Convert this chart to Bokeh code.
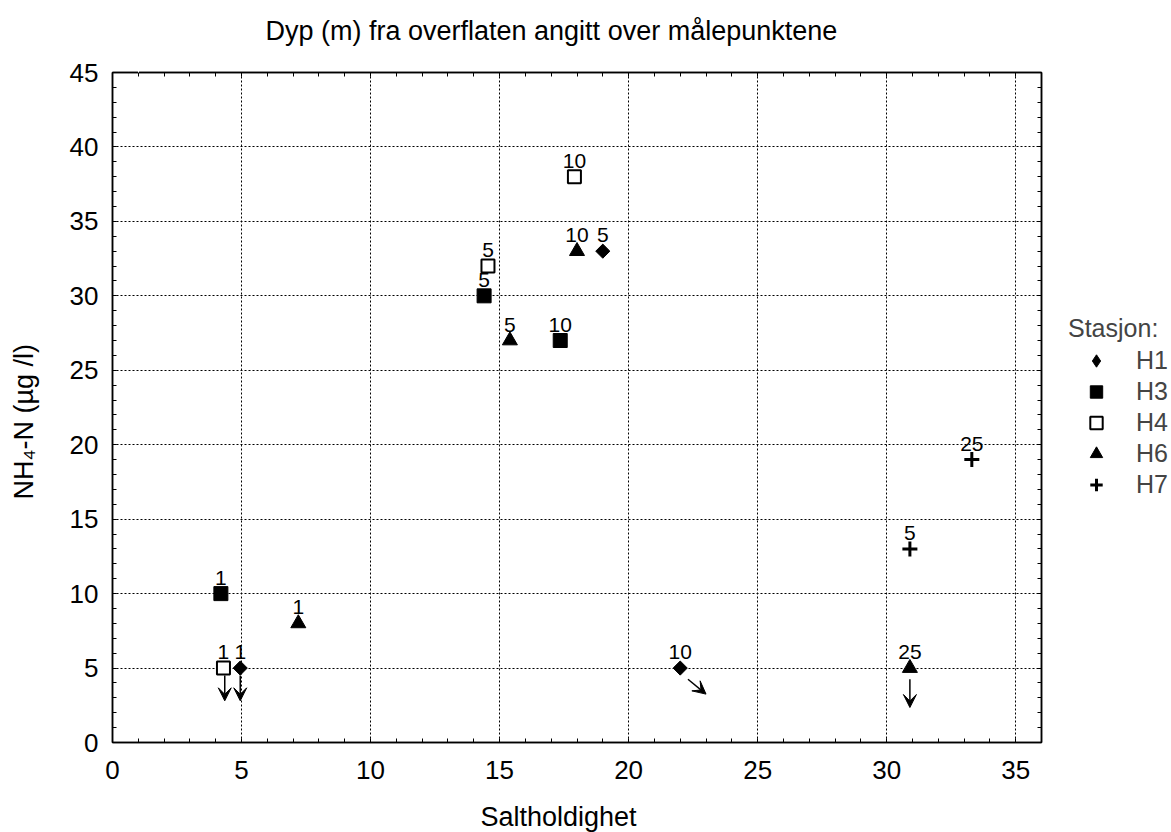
import math
from bokeh.plotting import figure
from bokeh.layouts import row
from bokeh.models import (Range1d, LinearAxis, SingleIntervalTicker, FixedTicker, Legend,
                          LegendItem, Arrow, VeeHead, ColumnDataSource, Title)
from bokeh.embed import file_html
from bokeh.resources import INLINE
from bokeh.core.properties import value

FONT = "Liberation Sans"

# ---- data ----
stations = ["H1", "H3", "H4", "H6", "H7"]

h1_salt = [4.95, 19.0, 22.0]
h1_nh4 = [5, 33, 5]
h1_depth = ["1", "5", "10"]

h3_salt = [4.2, 14.4, 17.35]
h3_nh4 = [10, 30, 27]
h3_depth = ["1", "5", "10"]

h4_salt = [4.3, 14.55, 17.9]
h4_nh4 = [5, 32, 38]
h4_depth = ["1", "5", "10"]

h6_salt = [7.2, 15.4, 18.0, 30.9]
h6_nh4 = [8, 27, 33, 5]
h6_depth = ["1", "5", "10", "25"]

h7_salt = [30.9, 33.3]
h7_nh4 = [13, 19]
h7_depth = ["5", "25"]

# arrows: values below detection limit
arrow_x_start = [4.35, 4.95, 22.3, 30.9]
arrow_y_start = [4.5, 4.5, 4.25, 4.25]
arrow_x_end = [4.35, 4.95, 23.0, 30.9]
arrow_y_end = [2.8, 2.8, 3.25, 2.35]

x_tick_interval = 5
y_tick_interval = 5
title_text = "Dyp (m) fra overflaten angitt over målepunktene"
x_label = "Saltholdighet"
y_label = "NH₄-N (µg /l)"
legend_title = "Stasjon:"

# ---- main figure ----
W, H = 1044, 832
BL, BR, BT, BB = 112, 3, 72, 90

p = figure(width=W, height=H, output_backend="svg", toolbar_location=None,
           x_range=Range1d(0, 36), y_range=Range1d(0, 45),
           min_border_left=BL, min_border_right=BR, min_border_top=BT, min_border_bottom=BB,
           background_fill_color="white", border_fill_color="white")
p.outline_line_color = "black"
p.outline_line_width = 1.5

xt = SingleIntervalTicker(interval=x_tick_interval, num_minor_ticks=5)
yt = SingleIntervalTicker(interval=y_tick_interval, num_minor_ticks=5)

def style_axis(ax, labels=True):
    ax.axis_line_color = "black"
    ax.axis_line_width = 1.5
    ax.major_tick_in = 4
    ax.major_tick_out = 0
    ax.minor_tick_in = 4
    ax.minor_tick_out = 0
    ax.major_tick_line_color = "black"
    ax.minor_tick_line_color = "black"
    ax.major_label_text_font = FONT
    if labels:
        ax.major_label_text_font_size = "26px"
        ax.major_label_text_color = "black"
    else:
        ax.major_label_text_font_size = "1px"
        ax.major_label_text_color = None

def spacer(size):
    # blank axis (one white outward tick over the white border) that only reserves space
    return LinearAxis(ticker=FixedTicker(ticks=[1]), major_tick_in=0, major_tick_out=size,
                      minor_tick_in=0, minor_tick_out=0, axis_line_color=None,
                      major_tick_line_color="white", major_tick_line_width=1,
                      minor_tick_line_color=None, major_label_text_color=None,
                      major_label_text_font_size="1px", major_label_standoff=0)

def text_title(txt, offset, **kw):
    return Title(text=txt, text_font=FONT, text_font_size="27px",
                 text_font_style="normal", text_color="black",
                 align="left", offset=offset, **kw)

xa = p.xaxis[0]
ya = p.yaxis[0]
xa.ticker = xt
ya.ticker = yt
style_axis(xa)
style_axis(ya)
xa.major_label_standoff = 18
ya.major_label_standoff = 14

top_ax = LinearAxis(ticker=xt)
right_ax = LinearAxis(ticker=yt)
style_axis(top_ax, labels=False)
style_axis(right_ax, labels=False)
p.add_layout(top_ax, "above")
p.add_layout(right_ax, "right")

p.xgrid.ticker = xt
p.ygrid.ticker = yt
for g in (p.xgrid, p.ygrid):
    g.grid_line_color = "black"
    g.grid_line_width = 1
    g.grid_line_dash = "2 2"

# ---- depth labels (drawn first, so markers sit on top) ----
lab_font = dict(text_font=value(FONT), text_font_size="21px", text_align="center",
                text_baseline="alphabetic", text_color="black", y_offset=-16)
for sx, sy, sd in [(h1_salt, h1_nh4, h1_depth), (h3_salt, h3_nh4, h3_depth),
                   (h4_salt, h4_nh4, h4_depth), (h6_salt, h6_nh4, h6_depth),
                   (h7_salt, h7_nh4, h7_depth)]:
    p.text(x=sx, y=sy, text=sd, **lab_font)

# ---- markers ----
style_h1 = dict(fill_color="black", line_color="black")
style_h3 = dict(marker="square", fill_color="black", line_color="black")
style_h4 = dict(marker="square", fill_color="white", line_color="black", line_width=2)
style_h6 = dict(marker="triangle", fill_color="black", line_color="black")
style_h7 = dict(marker="cross", line_color="black", line_width=3)

p.scatter(h1_salt, h1_nh4, marker="square", angle=math.pi / 4, size=10, **style_h1)
p.scatter(h3_salt, h3_nh4, size=14, **style_h3)
p.scatter(h4_salt, h4_nh4, size=13, **style_h4)
p.scatter(h6_salt, h6_nh4, size=15, **style_h6)
p.scatter(h7_salt, h7_nh4, size=15, **style_h7)

# ---- arrows ----
asrc = ColumnDataSource(dict(x0=arrow_x_start, y0=arrow_y_start,
                             x1=arrow_x_end, y1=arrow_y_end))
p.add_layout(Arrow(end=VeeHead(size=13, fill_color="black", line_color="black"),
                   x_start="x0", y_start="y0", x_end="x1", y_end="y1",
                   source=asrc, line_color="black", line_width=1.5))

# ---- title (above) ----
p.add_layout(spacer(26), "above")
p.add_layout(text_title(title_text, 153, standoff=2), "above")

# ---- x label (below) ----
p.add_layout(spacer(18), "below")
p.add_layout(text_title(x_label, 368, standoff=0), "below")

# ---- y label (left) ----
p.add_layout(spacer(27), "left")
p.add_layout(text_title(y_label, 243, standoff=2), "left")

# ---- legend panel (separate narrow figure to the right) ----
W2 = 126
pl = figure(width=W2, height=H, output_backend="svg", toolbar_location=None,
            x_range=Range1d(-100, -99), y_range=Range1d(-100, -99),
            x_axis_location=None, y_axis_location=None,
            min_border_left=0, min_border_right=0, min_border_top=0, min_border_bottom=19,
            background_fill_color="white", border_fill_color="white")
pl.outline_line_color = None
pl.grid.visible = False

k1 = pl.scatter(h1_salt, h1_nh4, marker="diamond", **style_h1)
k3 = pl.scatter(h3_salt, h3_nh4, **style_h3)
k4 = pl.scatter(h4_salt, h4_nh4, **style_h4)
k6 = pl.scatter(h6_salt, h6_nh4, **style_h6)
k7 = pl.scatter(h7_salt, h7_nh4, **style_h7)

legend = Legend(items=[LegendItem(label=s, renderers=[r]) for s, r in
                       zip(stations, [k1, k3, k4, k6, k7])],
                location="center_left", title=legend_title,
                border_line_color=None, background_fill_alpha=0,
                padding=0, margin=24, spacing=0,
                glyph_width=56, glyph_height=31, label_height=31, label_standoff=12,
                label_text_font=FONT, label_text_font_size="25px",
                title_text_font=FONT, title_text_font_size="25px",
                title_text_font_style="normal", title_standoff=2)
pl.add_layout(legend)

layout = row(p, pl, spacing=0)
open("out.html", "w").write(file_html(layout, INLINE))
